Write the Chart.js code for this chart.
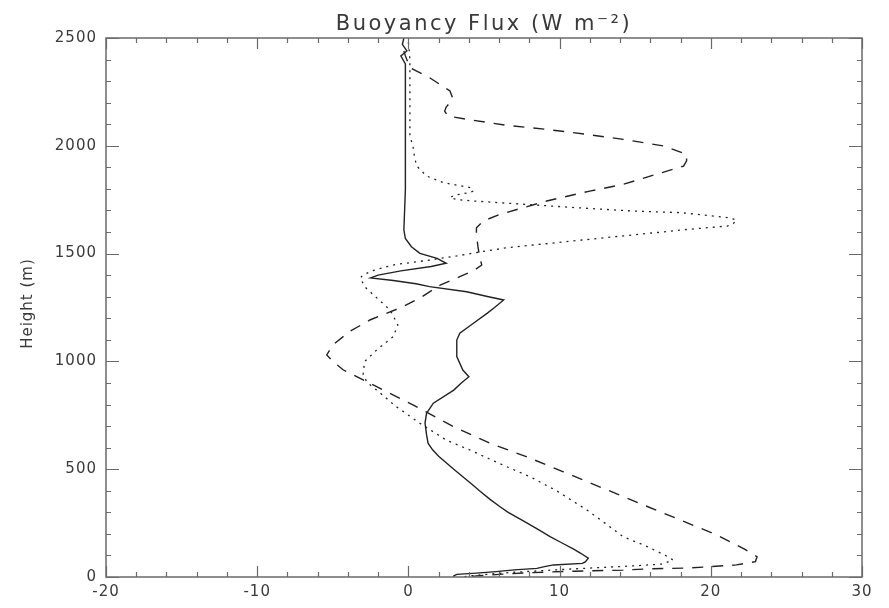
<!DOCTYPE html>
<html>
<head>
<meta charset="utf-8">
<script src="https://cdn.jsdelivr.net/npm/chart.js@4/dist/chart.umd.min.js"></script>
<style>
  html, body { margin: 0; padding: 0; background: #fff; }
  canvas { display: block; }
</style>
</head>
<body>
<canvas id="flux" width="889" height="608"></canvas>
<script>
// Buoyancy flux profiles (W m^-2) against height (m)
const solidHeight = [2500, 2470, 2440, 2417, 2380, 2300, 2200, 2100, 2000, 1900, 1800, 1700, 1610, 1570, 1532, 1501, 1478, 1455,
  1440, 1420, 1400, 1387, 1375, 1360, 1347, 1323, 1300, 1285, 1250, 1223, 1177, 1131, 1099, 1022, 960, 929, 900, 867, 806, 759,
  714, 660, 621, 590, 560, 530, 500, 465, 430, 400, 360, 326, 300, 260, 220, 187, 160, 130, 110, 87, 70, 63, 56, 48, 40, 33, 25, 18, 12, 5, 0];
const solidFlux = [-0.3, -0.4, -0.1, -0.5, -0.2, -0.2, -0.2, -0.2, -0.2, -0.2, -0.2, -0.25, -0.3, -0.2, 0.2, 0.76, 1.9, 2.5,
  1.5, -0.5, -2.0, -2.5, -1.0, 0.5, 1.4, 3.85, 5.3, 6.3, 5.7, 5.2, 4.3, 3.4, 3.2, 3.2, 3.6, 4.0, 3.5, 3.0, 1.65, 1.2,
  1.1, 1.2, 1.3, 1.6, 2.0, 2.5, 3.0, 3.6, 4.2, 4.7, 5.4, 6.06, 6.6, 7.6, 8.6, 9.37, 10.1, 10.9, 11.4, 11.9, 11.7, 11.5, 9.6, 9.0, 8.5, 7.0, 5.8, 4.5, 3.2, 3.0, 3.0];

const dashedHeight = [2440, 2417, 2362, 2316, 2254, 2217, 2180, 2161, 2138, 2123, 2095, 2076, 2053, 2030, 1999, 1960, 1930,
  1906, 1868, 1821, 1790, 1744, 1713, 1682, 1651, 1620, 1590, 1532, 1490, 1447, 1420, 1393, 1354, 1300, 1254, 1192, 1138,
  1076, 1030, 1000, 960, 883, 798, 697, 620, 558, 488, 411, 334, 264, 195, 130, 94, 71, 56, 48, 42, 38, 32, 27, 20, 12, 5, 0];
const dashedFlux = [-0.3, -0.2, 0.1, 1.4, 2.75, 2.95, 2.5, 2.4, 2.6, 3.85, 6.5, 9.15, 11.8, 14.2, 16.9, 18.4, 18.4,
  18.2, 16.4, 14.2, 12.0, 9.15, 7.6, 6.06, 4.95, 4.5, 4.5, 4.6, 4.7, 4.85, 4.3, 3.4, 2.1, 0.9, -0.35, -2.55, -3.9,
  -5.0, -5.4, -5.0, -4.3, -2.1, 0.3, 3.0, 5.4, 7.8, 10.25, 12.9, 15.55, 18.0, 20.4, 22.2, 23.06, 22.95, 21.7, 20.0, 18.6, 16.0, 14.2, 11.0, 8.0, 6.0, 4.5, 3.8];

const dottedHeight = [2480, 2400, 2300, 2200, 2100, 2045, 1999, 1950, 1906, 1860, 1829, 1806, 1790, 1783, 1770, 1759, 1750,
  1744, 1729, 1713, 1698, 1690, 1667, 1656, 1640, 1628, 1613, 1582, 1551, 1527, 1505, 1489, 1466, 1450, 1439, 1420, 1401,
  1385, 1340, 1308, 1238, 1169, 1115, 1053, 999, 937, 900, 867, 790, 713, 635, 589, 527, 465, 400, 311, 250, 187, 141,
  100, 79, 60, 52, 45, 38, 30, 22, 14, 5, 0];
const dottedFlux = [0.0, 0.1, 0.1, 0.1, 0.1, 0.1, 0.3, 0.4, 0.55, 1.2, 2.3, 4.1, 4.3, 4.0, 3.0, 2.75, 3.3,
  4.3, 7.6, 11.1, 14.7, 18.0, 21.1, 21.7, 21.5, 21.1, 18.6, 14.2, 9.8, 6.5, 4.5, 3.2, 1.0, -0.8, -1.45, -2.4, -3.0,
  -3.2, -2.8, -2.3, -1.2, -0.7, -1.0, -2.1, -2.9, -3.0, -2.7, -2.1, -0.8, 0.76, 2.5, 4.07, 6.0, 8.05, 9.8, 11.8, 13.0, 14.2, 15.8,
  17.0, 17.5, 16.8, 15.0, 13.0, 11.0, 9.0, 7.0, 5.5, 4.0, 3.5];

const xTickLabels = ['-20', '-10', '0', '10', '20', '30'];
const yTickLabels = ['0', '500', '1000', '1500', '2000', '2500'];

function profile(flux, height) {
  return flux.map((v, i) => ({ x: v, y: height[i] }));
}

const textFont = '15px "DejaVu Sans"';
const inkColor = '#222';
const frameColor = '#6a6a6a';

// Frame with inward major/minor ticks on all four sides, labels and title
const framePlugin = {
  id: 'frame',
  afterDraw(chart) {
    const { ctx, chartArea: a } = chart;
    const xs = chart.scales.x, ys = chart.scales.y;
    ctx.save();
    ctx.strokeStyle = frameColor;
    ctx.lineWidth = 1.5;
    ctx.strokeRect(a.left, a.top, a.right - a.left, a.bottom - a.top);
    ctx.lineWidth = 1.2;
    ctx.beginPath();
    for (let v = xs.min; v <= xs.max + 1e-6; v += 2) {
      const px = Math.round(xs.getPixelForValue(v)) + 0.5;
      const len = (v % 10 === 0) ? 11 : 5;
      ctx.moveTo(px, a.bottom); ctx.lineTo(px, a.bottom - len);
      ctx.moveTo(px, a.top); ctx.lineTo(px, a.top + len);
    }
    for (let h = ys.min; h <= ys.max + 1e-6; h += 100) {
      const py = Math.round(ys.getPixelForValue(h)) + 0.5;
      const len = (h % 500 === 0) ? 13 : 5;
      ctx.moveTo(a.left, py); ctx.lineTo(a.left + len, py);
      ctx.moveTo(a.right, py); ctx.lineTo(a.right - len, py);
    }
    ctx.stroke();

    ctx.fillStyle = '#3a3a3a';
    ctx.font = textFont;
    ctx.letterSpacing = '1px';
    ctx.textBaseline = 'middle';
    ctx.textAlign = 'center';
    xTickLabels.forEach(t => {
      ctx.fillText(t, xs.getPixelForValue(Number(t)), a.bottom + 15);
    });
    ctx.textAlign = 'right';
    yTickLabels.forEach(t => {
      ctx.fillText(t, a.left - 9, ys.getPixelForValue(Number(t)));
    });

    // axis title
    ctx.save();
    ctx.translate(28, (a.top + a.bottom) / 2 - 4);
    ctx.rotate(-Math.PI / 2);
    ctx.textAlign = 'center';
    ctx.fillText('Height (m)', 0, 0);
    ctx.restore();

    // plot title
    ctx.font = '21px "DejaVu Sans"';
    ctx.letterSpacing = '2.5px';
    ctx.textAlign = 'center';
    ctx.textBaseline = 'alphabetic';
    ctx.fillText('Buoyancy Flux (W m\u207B\u00B2)', (a.left + a.right) / 2, 30);
    ctx.restore();
  }
};

new Chart(document.getElementById('flux'), {
  type: 'scatter',
  data: {
    datasets: [
      { data: profile(solidFlux, solidHeight), borderColor: inkColor, borderWidth: 1.4 },
      { data: profile(dashedFlux, dashedHeight), borderColor: inkColor, borderWidth: 1.4, borderDash: [11, 9] },
      { data: profile(dottedFlux, dottedHeight), borderColor: inkColor, borderWidth: 1.3, borderDash: [2, 5] }
    ].map(d => Object.assign(d, { showLine: true, pointRadius: 0, fill: false, tension: 0 }))
  },
  options: {
    responsive: false,
    animation: false,
    events: [],
    layout: { padding: { left: 106, right: 27, top: 38, bottom: 31 } },
    plugins: { legend: { display: false }, tooltip: { enabled: false }, title: { display: false } },
    scales: {
      x: { type: 'linear', min: -20, max: 30, display: false },
      y: { type: 'linear', min: 0, max: 2500, display: false }
    }
  },
  plugins: [framePlugin]
});
</script>
</body>
</html>
